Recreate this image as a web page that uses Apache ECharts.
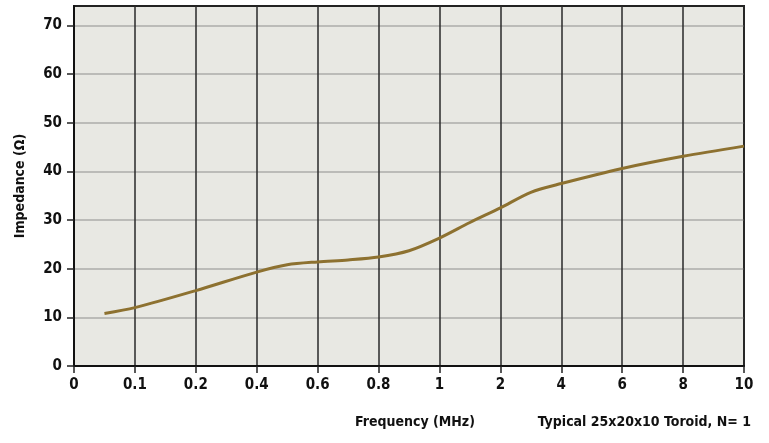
<!DOCTYPE html>
<html><head><meta charset="utf-8">
<script src="https://cdn.jsdelivr.net/npm/echarts@6/dist/echarts.min.js"></script>
<style>html,body{margin:0;padding:0;background:#fff}#c{width:769px;height:443px}</style>
</head><body><div id="c"></div>
<script>
// X tick labels (evenly spaced, non-linear axis)
var xTickValues = [0, 0.1, 0.2, 0.4, 0.6, 0.8, 1, 2, 4, 6, 8, 10];
var yTickValues = [0, 10, 20, 30, 40, 50, 60, 70];
// Curve: frequency (MHz) and impedance (Ohm)
var freq = [0.05, 0.1, 0.2, 0.4, 0.5, 0.6, 0.7, 0.8, 0.9, 1, 1.5, 2, 3, 4, 6, 8, 10];
var impedance = [10.8, 12.0, 15.5, 19.3, 20.8, 21.4, 21.8, 22.4, 23.7, 26.3, 29.5, 32.5, 35.7, 37.5, 40.6, 43.1, 45.2];

// piecewise-linear scale: frequency -> evenly spaced tick index
function freqToPos(f) {
  for (var i = 0; i < xTickValues.length - 1; i++) {
    var a = xTickValues[i], b = xTickValues[i + 1];
    if (f >= a && f <= b) return i + (f - a) / (b - a);
  }
  return xTickValues.length - 1;
}
var data = freq.map(function (f, i) { return [freqToPos(f), impedance[i]]; });

var font = '"Liberation Sans Narrow", "DejaVu Sans Condensed", sans-serif';
var chart = echarts.init(document.getElementById('c'));
chart.setOption({
  animation: false,
  grid: { left: 74, right: 25, top: 6, bottom: 77, show: true, backgroundColor: '#e8e8e3', borderColor: '#222', borderWidth: 2 },
  xAxis: {
    type: 'value', min: 0, max: xTickValues.length - 1, interval: 1,
    axisLine: { show: true, lineStyle: { color: '#111', width: 2 } },
    axisTick: { show: true, length: 7, lineStyle: { color: '#222', width: 1.5 } },
    axisLabel: { color: '#111', fontFamily: font, fontWeight: 'bold', fontSize: 15, margin: 12,
      formatter: function (v) { return xTickValues[Math.round(v)] !== undefined ? String(xTickValues[Math.round(v)]) : ''; } },
    splitLine: { show: true, lineStyle: { color: '#2a2a2a', width: 1.5 } }
  },
  yAxis: {
    type: 'value', min: 0, max: 74, interval: 10,
    name: 'Impedance (Ω)', nameLocation: 'middle', nameGap: 47, nameRotate: 90,
    nameTextStyle: { color: '#111', fontFamily: font, fontWeight: 'bold', fontSize: 14 },
    axisLine: { show: true, lineStyle: { color: '#111', width: 2 } },
    axisTick: { show: true, length: 7, customValues: yTickValues, lineStyle: { color: '#222', width: 1.5 } },
    axisLabel: { color: '#111', fontFamily: font, fontWeight: 'bold', fontSize: 15, margin: 12, customValues: yTickValues },
    splitLine: { show: true, lineStyle: { color: '#adadaa', width: 1.5 } }
  },
  graphic: [
    { type: 'text', left: 355, top: 415, style: { text: 'Frequency (MHz)', fill: '#111', font: 'bold 14px ' + font } },
    { type: 'text', right: 18, top: 415, style: { text: 'Typical 25x20x10 Toroid, N= 1', fill: '#111', font: 'bold 14px ' + font } }
  ],
  series: [{
    type: 'line', data: data, smooth: 0.3, showSymbol: false,
    lineStyle: { color: '#8d7130', width: 3 }
  }]
});
</script></body></html>
